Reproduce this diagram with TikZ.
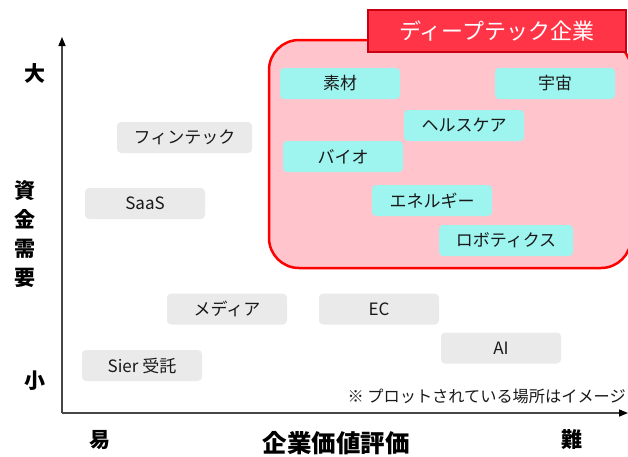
\documentclass[tikz,border=0pt]{standalone}
\usepackage{fontspec}
\newfontfamily\jp{Noto Sans CJK JP}
\usetikzlibrary{arrows.meta}
\definecolor{boxgray}{RGB}{234,234,234}
\definecolor{boxcyan}{RGB}{158,245,240}
\definecolor{areapink}{RGB}{255,196,204}
\definecolor{areared}{RGB}{255,0,0}
\definecolor{titlefill}{RGB}{255,52,70}
\definecolor{titledraw}{RGB}{200,0,20}
\definecolor{axisgray}{RGB}{70,70,70}
\definecolor{txt}{RGB}{25,25,25}
\tikzset{
  tagbox/.style={rounded corners=4pt, minimum width=120pt, minimum height=31pt, inner sep=0pt,
    text=txt, font=\jp\fontsize{17}{17}\selectfont},
  graybox/.style={tagbox, fill=boxgray},
  cyanbox/.style={tagbox, fill=boxcyan},
  axislabel/.style={text=black, font=\jp\bfseries\fontsize{21}{21}\selectfont, inner sep=0pt},
  axisline/.style={draw=axisgray, line width=1.5pt, -{Triangle[length=9pt,width=7pt,color=black]}},
}
\begin{document}
\begin{tikzpicture}[x=1pt,y=-1pt]
\useasboundingbox (0,0) rectangle (628,456);
\clip (0,0) rectangle (628,456);
% deep tech area
\node[draw=areared, line width=2.5pt, fill=areapink, rounded corners=30pt,
  minimum width=362pt, minimum height=228pt, inner sep=0pt] (area) at (450,154) {};
\node[draw=titledraw, line width=1.5pt, fill=titlefill, minimum width=258pt, minimum height=42pt,
  inner sep=0pt, text=white, font=\jp\fontsize{22}{22}\selectfont] (title) at (497,31) {ディープテック企業};
% axes
\coordinate (o) at (62,413);
\coordinate (ytop) at (62,37);
\coordinate (xend) at (628,413);
\draw[axisline] (o) -- (ytop);
\draw[axisline] (o) -- (xend);
% cyan boxes
\node[cyanbox] (sozai) at (340,83.5) {素材};
\node[cyanbox] (uchu) at (555,83.5) {宇宙};
\node[cyanbox] (health) at (464,125.5) {ヘルスケア};
\node[cyanbox] (bio) at (343,156.5) {バイオ};
\node[cyanbox] (energy) at (432,200.5) {エネルギー};
\node[cyanbox, minimum width=134pt] (robot) at (506,240.5) {ロボティクス};
% gray boxes
\node[graybox, minimum width=135pt] (fintech) at (184.5,137.5) {フィンテック};
\node[graybox] (saas) at (145,203.5) {SaaS};
\node[graybox] (media) at (227,309) {メディア};
\node[graybox] (ec) at (379,309) {EC};
\node[graybox] (ai) at (501,348) {AI};
\node[graybox] (sier) at (142,365.5) {Sier 受託};
% note
\node[anchor=east, inner sep=0pt, text=txt, font=\jp\fontsize{16.2}{16.2}\selectfont] (note) at (626,396) {※ プロットされている場所はイメージ};
% axis labels
\node[axislabel] (dai) at (35,73) {大};
\node[axislabel] (sho) at (35,381) {小};
\node[axislabel, align=center, font=\jp\bfseries\fontsize{21}{29}\selectfont] (shikin) at (25,234) {資\\金\\需\\要};
\node[axislabel] (eki) at (100,440) {易};
\node[axislabel, font=\jp\bfseries\fontsize{24.5}{24.5}\selectfont] (kigyo) at (336,443) {企業価値評価};
\node[axislabel] (nan) at (572,440) {難};
\end{tikzpicture}
\end{document}
